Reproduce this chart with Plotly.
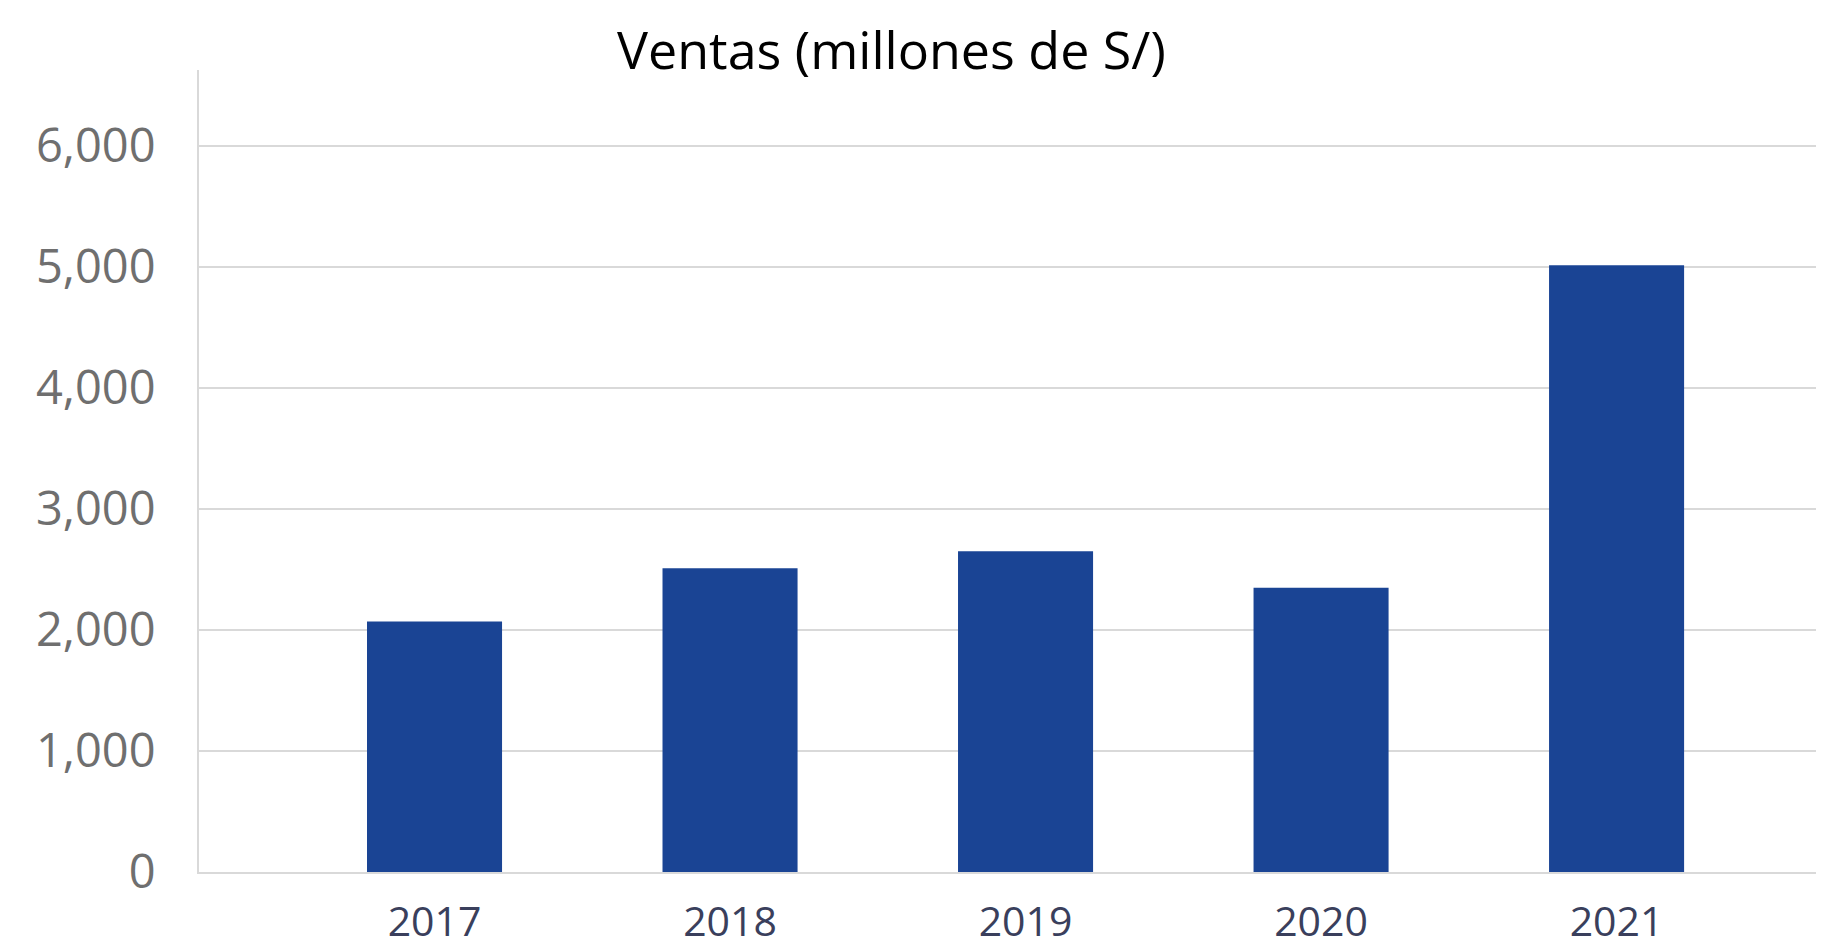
import plotly.graph_objects as go

years = ["2017", "2018", "2019", "2020", "2021"]
ventas = [2070, 2510, 2650, 2350, 5015]
y_ticks = [0, 1000, 2000, 3000, 4000, 5000, 6000]
y_tick_text = ["0", "1,000", "2,000", "3,000", "4,000", "5,000", "6,000"]
title_text = "Ventas (millones de S/)"

# page has an 8px body margin; compensate so the plot lands where the reference has it
OFF = 8
W, H = 1824, 937
L, R, T, B = 199 - OFF, 0, 70 - OFF, H - (872 - OFF)

fig = go.Figure(
    go.Bar(
        x=years,
        y=ventas,
        marker=dict(color="#1a4494", line=dict(width=0)),
        width=0.457,
    )
)

plot_w = W - L - R
plot_h = H - T - B
title_x_page, title_y_page = 891, 48

fig.update_layout(
    width=W,
    height=H,
    margin=dict(l=L, r=R, t=T, b=B),
    paper_bgcolor="white",
    plot_bgcolor="white",
    showlegend=False,
    annotations=[
        dict(
            text=title_text,
            x=(title_x_page - OFF - L) / plot_w,
            y=1 + (T - (title_y_page - OFF)) / plot_h,
            xref="paper",
            yref="paper",
            xanchor="center",
            yanchor="middle",
            showarrow=False,
            font=dict(family="Open Sans, sans-serif", size=52, color="#000000"),
        )
    ],
)

fig.update_xaxes(
    type="category",
    range=[-0.797, 4.729],
    automargin=False,
    showgrid=False,
    showline=True,
    linecolor="#d9d9d9",
    linewidth=2,
    ticks="",
    tickfont=dict(family="Open Sans, sans-serif", size=41, color="#3a3f5c"),
    ticklabelstandoff=13,
)
fig.update_yaxes(
    range=[0, 6628],
    automargin=False,
    tickvals=y_ticks,
    ticktext=y_tick_text,
    showgrid=True,
    gridcolor="#d9d9d9",
    gridwidth=1.5,
    showline=True,
    linecolor="#d9d9d9",
    linewidth=2,
    zeroline=False,
    ticks="",
    tickfont=dict(family="Open Sans, sans-serif", size=47, color="#6f6f6f"),
    ticklabelstandoff=32,
)

fig.write_html("out.html")
